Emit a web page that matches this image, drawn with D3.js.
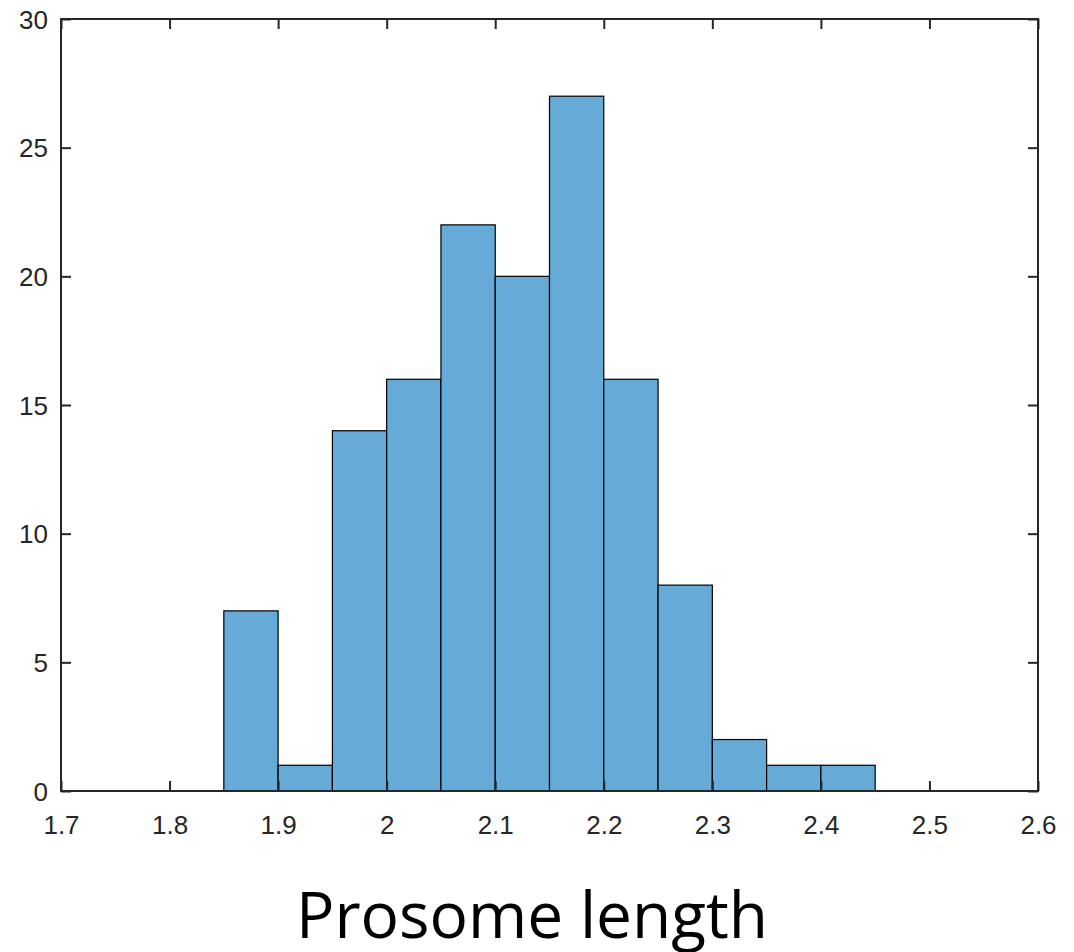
<!DOCTYPE html>
<html>
<head>
<meta charset="UTF-8">
<title>Prosome length histogram</title>
<script src="https://d3js.org/d3.v7.min.js"></script>
<style>
  body { margin: 0; background: #fff; }
  .tick text { font-family: "Liberation Sans", Arial, sans-serif; font-size: 26px; fill: #262626; }
</style>
</head>
<body>
<svg width="1074" height="952"></svg>
<script>
// histogram bins (left edges) and counts
var binStarts = [1.80, 1.85, 1.90, 1.95, 2.00, 2.05, 2.10, 2.15, 2.20, 2.25, 2.30, 2.35, 2.40, 2.45];
var counts    = [0,    7,    1,    14,   16,   22,   20,   27,   16,   8,    2,    1,    1,    0];
var binWidth = 0.05;
var xTicks = [1.7, 1.8, 1.9, 2.0, 2.1, 2.2, 2.3, 2.4, 2.5, 2.6];
var yTicks = [0, 5, 10, 15, 20, 25, 30];
var xLabel = "Prosome length";

var svg = d3.select("svg");
var mLeft = 61, mRight = 1038, mTop = 19, mBottom = 791;
var axisColor = "#262626";

var x = d3.scaleLinear().domain([1.7, 2.6]).range([mLeft, mRight]);
var y = d3.scaleLinear().domain([0, 30]).range([mBottom, mTop]);

// bars
svg.append("g").selectAll("rect")
  .data(binStarts)
  .enter().append("rect")
  .attr("x", function(d) { return x(d); })
  .attr("y", function(d, i) { return y(counts[i]); })
  .attr("width", function(d) { return x(d + binWidth) - x(d); })
  .attr("height", function(d, i) { return y(0) - y(counts[i]); })
  .attr("fill", "#66aad7")
  .attr("stroke", "#000")
  .attr("stroke-width", 1.2);

// axes, ticks pointing inward
function fmt(d) { return d3.format("")(+d.toFixed(1)); }
var tl = 10;
var xb = svg.append("g").attr("transform", "translate(0," + mBottom + ")")
  .call(d3.axisBottom(x).tickValues(xTicks).tickSizeInner(-tl).tickSizeOuter(0).tickPadding(25).tickFormat(fmt));
var xt = svg.append("g").attr("transform", "translate(0," + mTop + ")")
  .call(d3.axisTop(x).tickValues(xTicks).tickSizeInner(-tl).tickSizeOuter(0).tickFormat(""));
var yl = svg.append("g").attr("transform", "translate(" + mLeft + ",0)")
  .call(d3.axisLeft(y).tickValues(yTicks).tickSizeInner(-tl).tickSizeOuter(0).tickPadding(13));
var yr = svg.append("g").attr("transform", "translate(" + mRight + ",0)")
  .call(d3.axisRight(y).tickValues(yTicks).tickSizeInner(-tl).tickSizeOuter(0).tickFormat(""));

[xb, xt, yl, yr].forEach(function(g) {
  g.select(".domain").remove();
  g.selectAll(".tick line").attr("stroke", axisColor).attr("stroke-width", 2);
});
xb.selectAll(".tick text").attr("dy", "0.71em");
yl.selectAll(".tick text").attr("dy", "0.35em");

// box
svg.append("rect")
  .attr("x", mLeft).attr("y", mTop)
  .attr("width", mRight - mLeft).attr("height", mBottom - mTop)
  .attr("fill", "none").attr("stroke", axisColor).attr("stroke-width", 2);

// x label
svg.append("text")
  .attr("x", 532).attr("y", 938)
  .attr("text-anchor", "middle")
  .style("font-family", "'Open Sans', 'Noto Sans', sans-serif")
  .style("font-size", "64px")
  .attr("fill", "#000")
  .text(xLabel);
</script>
</body>
</html>
